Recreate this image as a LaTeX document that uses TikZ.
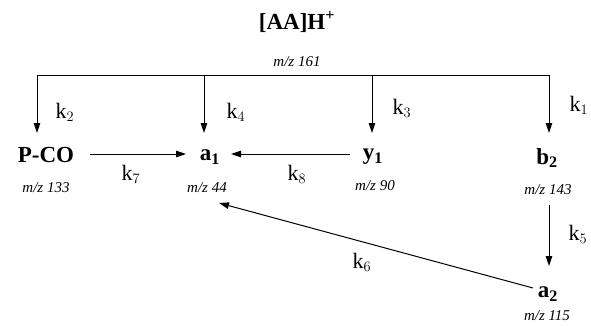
\documentclass[tikz,border=0pt]{standalone}
\usepackage{fontspec}
\setmainfont{Liberation Serif}
\usetikzlibrary{arrows.meta}
\begin{document}
\begin{tikzpicture}[x=1pt,y=-1pt,
  sp/.style={font=\fontsize{23}{25}\selectfont\bfseries, inner sep=0pt},
  mz/.style={font=\fontsize{15}{17}\selectfont\itshape, inner sep=0pt},
  kl/.style={font=\fontsize{22}{24}\selectfont, inner sep=0pt},
  arr/.style={-{Triangle[length=10pt,width=6.5pt]}, line width=1pt},
  ln/.style={line width=1pt}]
\useasboundingbox (0,0) rectangle (591,325);
% species
\node[sp] (top) at (297,22) {[AA]H\textsuperscript{+}};
\node[mz] (mztop) at (297,62) {m/z 161};
\node[sp] (pco) at (46,155) {P-CO};
\node[sp] (a1) at (210,157) {a$_{\mathbf{1}}$};
\node[sp] (y1) at (373,157) {y\textsubscript{1}};
\node[sp] (b2) at (547,158) {b$_{\mathbf{2}}$};
\node[sp] (a2) at (548,294) {a$_{\mathbf{2}}$};
\node[mz] (mzpco) at (46,188) {m/z 133};
\node[mz] (mza1) at (207,188) {m/z 44};
\node[mz] (mzy1) at (375,186) {m/z 90};
\node[mz] (mzb2) at (548,190) {m/z 143};
\node[mz] (mza2) at (547,316) {m/z 115};
% junction coordinates
\coordinate (jL) at (37,75);
\coordinate (jR) at (550,75);
\coordinate (j2) at (37,75);
\coordinate (j4) at (204,75);
\coordinate (j3) at (372,75);
\coordinate (j1) at (549,75);
\coordinate (e2) at (37,133);
\coordinate (e4) at (204,133);
\coordinate (e3) at (372,133);
\coordinate (e1) at (549,133);
\draw[ln] (jL) -- (jR);
\draw[arr] (j2) -- (e2);
\draw[arr] (j4) -- (e4);
\draw[arr] (j3) -- (e3);
\draw[arr] (j1) -- (e1);
\node[kl] (k2) at (65,112) {k$_2$};
\node[kl] (k4) at (236,112) {k$_4$};
\node[kl] (k3) at (402,108) {k$_3$};
\node[kl] (k1) at (579,105) {k$_1$};
% horizontal arrows
\coordinate (s7) at (90,154);
\coordinate (t7) at (186,154);
\coordinate (s8) at (350,154);
\coordinate (t8) at (231,154);
\draw[arr] (s7) -- (t7);
\draw[arr] (s8) -- (t8);
\node[kl] (k7) at (131,174) {k$_7$};
\node[kl] (k8) at (297,174) {k$_8$};
% b2 -> a2
\coordinate (s5) at (549,205);
\coordinate (t5) at (549,266);
\draw[arr] (s5) -- (t5);
\node[kl] (k5) at (578,234) {k$_5$};
% a2 -> a1
\coordinate (s6) at (533,288);
\coordinate (t6) at (219,203);
\draw[arr] (s6) -- (t6);
\node[kl] (k6) at (362,262) {k$_6$};
\end{tikzpicture}
\end{document}
